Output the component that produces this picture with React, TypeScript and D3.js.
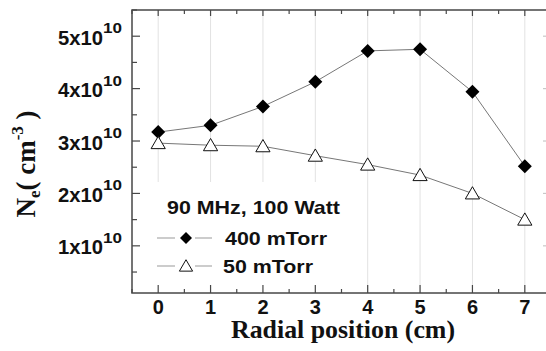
import React from "react";
import * as d3 from "d3";

const positions = [0, 1, 2, 3, 4, 5, 6, 7];
const torr400 = [3.17, 3.3, 3.66, 4.13, 4.72, 4.75, 3.94, 2.52];
const torr50 = [2.96, 2.92, 2.9, 2.72, 2.55, 2.35, 2.0, 1.5];
const yTickValues = [1, 2, 3, 4, 5];
const yMinorValues = [0.5, 1.5, 2.5, 3.5, 4.5, 5.5];
const xMinorValues = [-0.5, 0.5, 1.5, 2.5, 3.5, 4.5, 5.5, 6.5, 7.5];
const legendTitle = "90 MHz, 100 Watt";
const seriesNames = ["400 mTorr", "50 mTorr"];

const W = 546;
const H = 351;
const L = 132, R = 551, T = 10, B = 293;

const diamondType = {
  draw(ctx: any, size: number) {
    const h = Math.sqrt(size / 2);
    ctx.moveTo(0, -h);
    ctx.lineTo(h, 0);
    ctx.lineTo(0, h);
    ctx.lineTo(-h, 0);
    ctx.closePath();
  },
};
const triType = {
  draw(ctx: any, size: number) {
    const s = Math.sqrt(size);
    ctx.moveTo(0, -s * 0.55);
    ctx.lineTo(s * 0.58, s * 0.45);
    ctx.lineTo(-s * 0.58, s * 0.45);
    ctx.closePath();
  },
};

export default function App() {
  const x = d3.scaleLinear().domain([-0.5, 7.5]).range([L, R]);
  const y = d3.scaleLinear().domain([0.1, 5.5]).range([B, T]);
  const line = d3
    .line<number>()
    .x((_, i) => x(positions[i]))
    .y((d) => y(d));
  const diamond = d3.symbol().type(diamondType as any).size(98)();
  const diamondSm = d3.symbol().type(diamondType as any).size(72)();
  const tri = d3.symbol().type(triType as any).size(150)();
  const triSm = d3.symbol().type(triType as any).size(130)();
  const sans = "'Liberation Sans', Arial, sans-serif";
  const serif = "'Liberation Serif', 'Times New Roman', serif";
  const frame = "#474747";

  return (
    <svg
      width={W}
      height={H}
      style={{ position: "absolute", left: 0, top: 0, background: "#fff" }}
    >
      <rect x={0} y={0} width={W} height={H} fill="#fff" />
      {/* gridlines */}
      {positions.map((p) => (
        <line key={"g" + p} x1={x(p)} x2={x(p)} y1={T} y2={B} stroke="#e2e2e2" strokeWidth={1} />
      ))}
      {/* legend box background */}
      <rect x={L} y={182} width={216} height={B - 182} fill="#fff" />

      {/* series lines */}
      <path d={line(torr400) || ""} fill="none" stroke="#777" strokeWidth={1} />
      <path d={line(torr50) || ""} fill="none" stroke="#777" strokeWidth={1} />
      {torr400.map((v, i) => (
        <path key={"d" + i} d={diamond || ""} transform={`translate(${x(positions[i])},${y(v)})`} fill="#000" />
      ))}
      {torr50.map((v, i) => (
        <path
          key={"t" + i}
          d={tri || ""}
          transform={`translate(${x(positions[i])},${y(v)})`}
          fill="#fff"
          stroke="#111"
          strokeWidth={1}
        />
      ))}

      {/* frame */}
      <rect x={L} y={T} width={R - L} height={B - T} fill="none" stroke={frame} strokeWidth={1.5} />

      {/* x ticks */}
      {positions.map((p) => (
        <g key={"xt" + p}>
          <line x1={x(p)} x2={x(p)} y1={B} y2={B - 8} stroke={frame} strokeWidth={1.2} />
          <line x1={x(p)} x2={x(p)} y1={T} y2={T + 6} stroke={frame} strokeWidth={1.2} />
          <text x={x(p)} y={313.5} textAnchor="middle" fontFamily={sans} fontWeight="bold" fontSize={20} fill="#111">
            {p}
          </text>
        </g>
      ))}
      {xMinorValues.map((p) => (
        <g key={"xm" + p}>
          <line x1={x(p)} x2={x(p)} y1={B} y2={B - 4} stroke={frame} strokeWidth={1.2} />
          <line x1={x(p)} x2={x(p)} y1={T} y2={T + 4} stroke={frame} strokeWidth={1.2} />
        </g>
      ))}

      {/* y ticks */}
      {yTickValues.map((v) => (
        <g key={"yt" + v}>
          <line x1={L} x2={L + 8} y1={y(v)} y2={y(v)} stroke={frame} strokeWidth={1.2} />
          <line x1={R} x2={R - 8} y1={y(v)} y2={y(v)} stroke="#c8c8c8" strokeWidth={1.2} />
          <text x={58} y={y(v) + 8.5} fontFamily={sans} fontWeight="bold" fontSize={21} fill="#111" textLength={45} lengthAdjust="spacingAndGlyphs">
            {v}x10
          </text>
          <text x={103} y={y(v) - 3} fontFamily={sans} fontWeight="bold" fontSize={14.5} fill="#111" textLength={19} lengthAdjust="spacingAndGlyphs">
            10
          </text>
        </g>
      ))}
      {yMinorValues.map((v) => (
        <line key={"ym" + v} x1={L} x2={L + 5} y1={y(v)} y2={y(v)} stroke={frame} strokeWidth={1.2} />
      ))}

      {/* axis titles */}
      <text x={343} y={338} textAnchor="middle" fontFamily={serif} fontWeight="bold" fontSize={25} fill="#111" textLength={224} lengthAdjust="spacingAndGlyphs">
        Radial position (cm)
      </text>
      <text
        transform="translate(35,164) rotate(-90)"
        textAnchor="middle"
        fontFamily={serif}
        fontWeight="bold"
        fontSize={27}
        fill="#111"
      >
        N
        <tspan fontSize={17} dy={5}>e</tspan>
        <tspan dy={-5}>( cm</tspan>
        <tspan fontSize={17} dy={-12}>-3</tspan>
        <tspan dy={12}> )</tspan>
      </text>

      {/* legend */}
      <text x={167} y={213.5} fontFamily={sans} fontWeight="bold" fontSize={19} fill="#111" textLength={173} lengthAdjust="spacingAndGlyphs">
        {legendTitle}
      </text>
      <line x1={157} x2={175} y1={238} y2={238} stroke="#999" strokeWidth={1} />
      <line x1={195} x2={212} y1={238} y2={238} stroke="#999" strokeWidth={1} />
      <path d={diamondSm || ""} transform="translate(186,238)" fill="#000" />
      <text x={225} y={245} fontFamily={sans} fontWeight="bold" fontSize={19} fill="#111" textLength={102} lengthAdjust="spacingAndGlyphs">
        {seriesNames[0]}
      </text>
      <line x1={157} x2={175} y1={266} y2={266} stroke="#999" strokeWidth={1} />
      <line x1={195} x2={212} y1={266} y2={266} stroke="#999" strokeWidth={1} />
      <path d={triSm || ""} transform="translate(186,266)" fill="#fff" stroke="#111" strokeWidth={1} />
      <text x={223} y={273} fontFamily={sans} fontWeight="bold" fontSize={19} fill="#111" textLength={90} lengthAdjust="spacingAndGlyphs">
        {seriesNames[1]}
      </text>
    </svg>
  );
}
